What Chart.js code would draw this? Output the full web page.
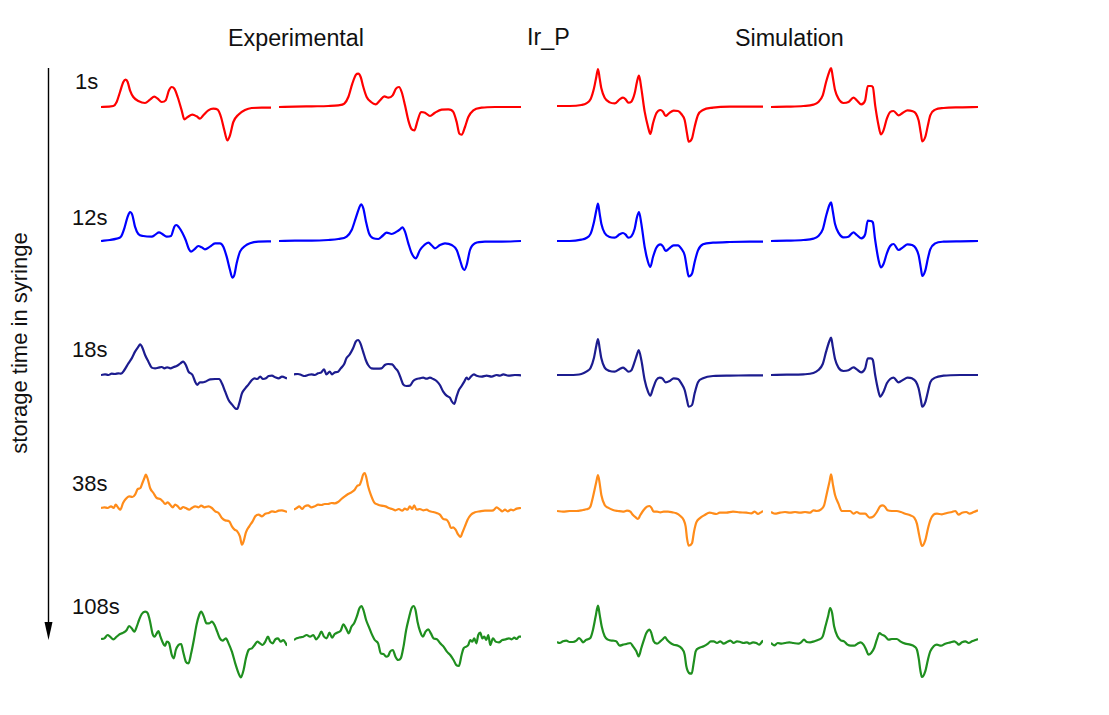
<!DOCTYPE html>
<html lang="en">
<head>
  <meta charset="UTF-8" />
  <title>Ir_P – storage time series</title>
  <script src="https://cdn.jsdelivr.net/npm/chart.js"></script>
  <style>
    body { margin: 0; background: #fff; font-family: "Liberation Sans", Arial, sans-serif; }
    #page { position: relative; width: 1109px; height: 715px; overflow: hidden; }
    #page canvas { position: absolute; }
    .lbl { position: absolute; font-size: 22px; line-height: 22px; color: #111; white-space: nowrap; }
    .head { font-size: 23.3px; }
    #ylab { position: absolute; left: 20px; top: 343px; transform: translate(-50%, -50%) rotate(-90deg); font-size: 22px; line-height: 22px; color: #111; white-space: nowrap; }
  </style>
</head>
<body>
  <div id="page">
    <div class="lbl head" style="left:228px; top:27px;">Experimental</div>
    <div class="lbl head" style="left:527px; top:26px;">Ir_P</div>
    <div class="lbl head" style="left:735px; top:27px;">Simulation</div>
    <div id="ylab">storage time in syringe</div>
    <svg style="position:absolute; left:0; top:0;" width="100" height="715">
      <line x1="48.5" y1="68" x2="48.5" y2="626" stroke="#000" stroke-width="1.4" />
      <polygon points="44.5,622 52.5,622 48.5,640" fill="#000" />
    </svg>
  </div>

  <script>
    // row labels + colours
    const times = ["1s", "12s", "18s", "38s", "108s"];
    const colors = ["#ff0000", "#0000ff", "#1c1c8f", "#ff8c1a", "#1f8f1f"];

    // spectra: [field (a.u.), signal (a.u.)]
    const exp1sLeft = [[18,0],[55,3],[65,15],[75,45],[85,75],[92,82],[98,75],[105,50],[115,30],[130,18],[150,12],[165,22],[178,31],[188,25],[200,15],[212,20],[222,50],[230,60],[238,55],[248,30],[260,-10],[268,-37],[278,-30],[292,-23],[305,-28],[315,-35],[325,-25],[340,-10],[355,-5],[368,-8],[378,-30],[388,-70],[397,-100],[405,-85],[415,-45],[430,-23],[450,-9],[470,-3],[500,-2],[528,-2]];
    const exp1sRight = [[552,0],[600,1],[650,2],[700,3],[730,5],[748,10],[760,30],[772,70],[783,97],[790,100],[797,90],[805,60],[815,30],[828,15],[842,8],[855,20],[868,32],[880,28],[893,35],[903,55],[912,60],[920,45],[930,5],[940,-40],[950,-67],[958,-70],[968,-40],[978,-15],[990,-17],[1005,-27],[1020,-17],[1040,-8],[1060,-7],[1075,-15],[1085,-45],[1093,-80],[1100,-83],[1110,-60],[1120,-30],[1135,-10],[1160,-2],[1200,0],[1278,0]];
    const sim1sLeft = [[22,0],[60,0],[95,3],[110,8],[123,21],[133,53],[140,88],[145,111],[150,83],[155,53],[165,25],[180,11],[195,8],[210,20],[220,25],[228,20],[236,10],[245,13],[255,38],[262,73],[268,91],[275,53],[285,-17],[295,-62],[302,-84],[310,-52],[320,-22],[332,-12],[340,-17],[348,-30],[358,-22],[372,-14],[385,-15],[395,-24],[405,-42],[412,-82],[417,-107],[427,-97],[435,-62],[445,-27],[460,-12],[490,-5],[540,-2],[600,-2],[640,-2]];
    const sim1sRight = [[663,0],[710,1],[760,3],[790,7],[805,15],[818,35],[828,75],[838,107],[843,117],[848,90],[855,50],[865,25],[880,12],[895,15],[910,28],[920,20],[933,8],[945,20],[953,63],[962,63],[968,60],[975,5],[985,-55],[992,-82],[1000,-70],[1010,-35],[1020,-15],[1030,-12],[1045,-25],[1058,-17],[1072,-10],[1085,-12],[1097,-20],[1105,-40],[1112,-80],[1116,-103],[1125,-90],[1133,-55],[1140,-25],[1155,-8],[1180,-3],[1230,-1],[1283,0]];

    const exp12sLeft = [[18,0],[45,3],[65,7],[78,13],[88,38],[98,73],[105,87],[112,78],[120,43],[130,21],[145,15],[170,13],[182,20],[192,26],[202,21],[215,13],[228,15],[238,43],[244,48],[252,41],[262,25],[272,3],[282,-25],[288,-32],[298,-25],[310,-15],[320,-19],[330,-25],[345,-17],[360,-7],[375,-7],[385,-17],[395,-47],[405,-87],[412,-110],[418,-102],[425,-67],[435,-32],[450,-15],[465,-7],[490,-2],[528,-1]];
    const exp12sRight = [[552,0],[600,1],[650,1],[700,3],[730,6],[755,13],[770,33],[782,68],[792,98],[798,110],[805,98],[813,58],[822,23],[835,8],[850,6],[862,15],[875,25],[890,21],[905,28],[915,35],[922,41],[930,28],[940,-7],[950,-37],[962,-52],[975,-27],[988,-12],[1000,-5],[1012,-15],[1020,-22],[1035,-12],[1050,-7],[1070,-12],[1085,-27],[1095,-57],[1102,-79],[1108,-87],[1115,-72],[1125,-27],[1140,-7],[1170,-2],[1220,-2],[1278,0]];
    const sim12sLeft = [[22,0],[60,0],[95,4],[110,9],[123,22],[133,57],[140,92],[145,112],[150,82],[155,52],[165,24],[180,12],[195,10],[210,20],[220,24],[228,19],[236,10],[245,14],[255,37],[262,72],[268,87],[275,52],[285,-18],[295,-63],[302,-78],[310,-48],[320,-20],[332,-10],[340,-16],[348,-30],[358,-23],[372,-13],[385,-13],[395,-23],[405,-43],[412,-83],[417,-106],[427,-98],[435,-63],[445,-28],[460,-10],[490,-5],[540,-3],[600,-2],[640,-2]];
    const sim12sRight = [[663,0],[710,1],[760,3],[790,7],[805,15],[818,35],[828,75],[838,108],[843,116],[848,90],[855,50],[865,25],[880,11],[895,13],[910,26],[920,18],[933,8],[945,20],[953,61],[962,60],[968,56],[975,3],[985,-57],[992,-79],[1000,-69],[1010,-37],[1020,-15],[1030,-9],[1045,-27],[1058,-19],[1072,-10],[1085,-12],[1097,-22],[1105,-42],[1112,-82],[1116,-105],[1125,-89],[1133,-52],[1140,-25],[1155,-7],[1180,-2],[1230,-1],[1283,0]];

    const exp18sLeft = [[18,0],[30,2],[40,0],[50,4],[60,3],[70,5],[78,4],[88,15],[100,35],[110,50],[120,70],[130,85],[135,92],[142,82],[150,60],[160,40],[170,22],[180,20],[190,22],[200,24],[208,20],[216,23],[226,20],[236,24],[246,28],[256,35],[264,40],[272,30],[280,10],[292,0],[300,-20],[306,-30],[314,-22],[322,-22],[330,-20],[345,-13],[360,-12],[372,-12],[380,-25],[390,-50],[400,-75],[410,-88],[420,-100],[426,-102],[432,-85],[440,-55],[450,-40],[460,-28],[470,-15],[478,-10],[486,-12],[495,-5],[503,-12],[512,-10],[520,-3],[530,-2],[540,-7],[550,-10],[560,-5],[575,-10]];
    const exp18sRight = [[598,2],[610,3],[620,0],[630,-3],[640,0],[650,2],[660,0],[670,5],[680,8],[688,17],[695,2],[705,10],[712,2],[720,8],[730,10],[738,20],[748,32],[755,50],[765,62],[775,80],[783,100],[790,105],[797,95],[805,70],[813,45],[820,30],[830,20],[845,19],[860,20],[870,30],[880,33],[892,32],[902,20],[910,10],[918,-10],[925,-28],[935,-33],[945,-32],[955,-18],[965,-12],[975,-10],[985,-8],[995,-11],[1005,-8],[1015,-12],[1025,-18],[1035,-30],[1045,-50],[1055,-62],[1065,-68],[1070,-78],[1078,-87],[1085,-65],[1092,-45],[1100,-33],[1108,-20],[1115,-8],[1120,-13],[1128,-5],[1137,2],[1145,-2],[1160,-5],[1175,-2],[1190,-5],[1205,0],[1215,-2],[1225,2],[1240,-2],[1260,0],[1278,-1]];
    const sim18sLeft = [[22,0],[60,0],[95,3],[110,10],[123,22],[133,52],[140,88],[145,108],[150,80],[155,50],[165,22],[180,12],[195,10],[210,18],[220,22],[228,17],[236,10],[245,14],[255,40],[262,62],[267,75],[275,45],[285,-15],[295,-50],[302,-62],[310,-40],[320,-15],[330,-8],[338,-10],[348,-22],[360,-18],[372,-10],[385,-12],[395,-25],[405,-45],[412,-75],[417,-95],[427,-90],[435,-55],[445,-22],[460,-10],[490,-3],[540,-2],[600,-1],[640,-1]];
    const sim18sRight = [[663,0],[710,1],[760,2],[790,6],[805,15],[818,33],[828,70],[838,102],[843,112],[848,85],[855,47],[865,22],[880,12],[895,14],[910,23],[920,17],[933,8],[945,20],[953,50],[962,50],[968,45],[975,0],[985,-50],[990,-65],[1000,-50],[1010,-25],[1020,-12],[1030,-8],[1045,-22],[1058,-15],[1072,-8],[1085,-10],[1097,-20],[1105,-40],[1112,-75],[1116,-95],[1125,-82],[1133,-50],[1140,-22],[1155,-8],[1180,-2],[1230,0],[1283,0]];

    const exp38sLeft = [[18,0],[28,2],[38,0],[48,5],[56,0],[62,10],[70,0],[76,-5],[84,15],[92,27],[102,35],[112,33],[120,40],[128,57],[136,60],[142,75],[148,90],[152,100],[158,87],[165,60],[175,45],[185,30],[195,27],[203,20],[210,12],[218,17],[225,10],[233,2],[240,10],[248,5],[256,-3],[264,3],[272,0],[282,-5],[290,0],[300,5],[310,2],[318,7],[328,2],[340,5],[350,0],[360,-10],[370,-15],[380,-30],[390,-37],[402,-40],[410,-55],[418,-65],[426,-70],[434,-85],[440,-110],[445,-100],[452,-73],[462,-55],[472,-40],[480,-25],[490,-20],[500,-25],[510,-17],[520,-15],[530,-10],[540,-12],[550,-8],[560,-7],[570,-10],[575,-12]];
    const exp38sRight = [[598,-5],[606,0],[614,5],[622,-3],[630,5],[640,8],[650,2],[660,5],[670,10],[680,9],[690,12],[700,12],[710,15],[720,14],[730,18],[740,27],[750,35],[760,42],[770,47],[780,55],[788,67],[795,70],[800,83],[805,100],[810,105],[815,90],[820,65],[828,40],[838,17],[850,10],[860,7],[872,5],[882,0],[892,-3],[902,-7],[912,-3],[922,-8],[930,-2],[938,-5],[945,5],[952,-3],[958,8],[965,-5],[975,-3],[985,-7],[995,-5],[1005,-10],[1015,-12],[1025,-15],[1035,-20],[1045,-33],[1055,-35],[1062,-45],[1068,-60],[1075,-58],[1082,-65],[1090,-80],[1097,-87],[1102,-75],[1110,-55],[1118,-35],[1128,-20],[1140,-13],[1155,-10],[1170,-8],[1185,-8],[1195,-7],[1205,2],[1215,-5],[1222,-10],[1230,-5],[1238,-10],[1248,-5],[1255,-7],[1265,-2],[1278,0]];
    const sim38sLeft = [[22,0],[40,-2],[60,0],[80,0],[100,3],[110,5],[122,13],[130,43],[140,88],[145,108],[150,83],[155,48],[165,18],[175,10],[190,3],[205,0],[220,-2],[232,1],[242,-2],[250,-12],[258,-19],[265,-24],[272,-12],[282,3],[292,13],[300,15],[305,10],[312,-2],[322,-2],[332,-4],[342,-2],[355,-2],[368,-4],[380,-7],[392,-15],[402,-27],[408,-47],[412,-82],[417,-104],[427,-97],[433,-62],[440,-34],[450,-22],[465,-12],[480,-5],[490,-7],[500,-9],[510,-5],[530,-5],[550,-2],[570,-4],[590,-5],[605,-7],[615,-2],[625,-9],[632,-5],[640,0]];
    const sim38sRight = [[663,0],[675,-5],[690,-2],[705,0],[720,-2],[735,0],[750,-2],[765,0],[780,-2],[790,5],[800,3],[812,7],[822,20],[830,55],[838,90],[843,113],[848,85],[855,50],[865,25],[875,3],[890,3],[900,3],[910,-5],[920,0],[930,-5],[945,-5],[958,-17],[970,-13],[980,0],[990,17],[998,20],[1005,15],[1012,5],[1025,3],[1040,3],[1052,0],[1065,-5],[1080,-10],[1092,-17],[1100,-35],[1105,-60],[1110,-85],[1115,-102],[1125,-85],[1133,-50],[1140,-25],[1150,-8],[1160,-5],[1175,-7],[1190,-3],[1205,0],[1215,3],[1225,-8],[1235,-2],[1248,0],[1258,-5],[1270,0],[1283,5]];

    const exp108sLeft = [[18,0],[28,2],[38,12],[45,7],[55,-1],[65,7],[75,15],[85,19],[95,27],[102,39],[110,32],[118,22],[125,37],[132,57],[140,75],[150,82],[158,77],[165,52],[172,17],[178,7],[185,17],[190,24],[196,7],[204,-13],[210,-21],[215,-8],[222,-13],[230,-48],[236,-58],[242,-33],[250,-18],[258,-15],[264,-38],[272,-68],[280,-73],[288,-43],[296,-3],[304,42],[312,72],[318,82],[326,67],[334,47],[342,47],[350,52],[358,42],[366,22],[374,2],[382,-5],[392,2],[400,-13],[410,-38],[420,-73],[430,-103],[437,-115],[445,-93],[452,-58],[460,-33],[470,-28],[478,-18],[486,-8],[494,-13],[502,-18],[510,-8],[518,7],[525,-8],[532,-13],[540,-1],[548,2],[556,-8],[564,-3],[570,-11],[575,-20]];
    const exp108sRight = [[598,-3],[606,2],[616,5],[626,7],[636,12],[646,7],[656,12],[664,-1],[672,7],[680,22],[688,7],[696,2],[704,19],[712,4],[720,15],[730,20],[738,25],[746,44],[754,32],[762,17],[770,37],[778,47],[786,67],[794,92],[800,99],[806,87],[814,57],[822,37],[830,17],[840,-3],[850,-13],[858,-43],[866,-45],[874,-53],[880,-51],[886,-38],[894,-33],[902,-53],[910,-63],[918,-58],[926,-23],[934,27],[942,62],[950,92],[956,99],[962,87],[968,52],[976,22],[984,7],[992,22],[1000,29],[1008,17],[1016,2],[1026,-1],[1036,-13],[1046,-23],[1056,-38],[1066,-48],[1076,-63],[1084,-78],[1092,-81],[1100,-48],[1106,-28],[1114,-23],[1120,-18],[1126,-3],[1132,-8],[1138,2],[1144,-13],[1150,12],[1156,19],[1162,2],[1168,7],[1174,-3],[1180,12],[1186,-18],[1194,2],[1202,-8],[1212,-10],[1222,-3],[1232,-1],[1242,2],[1250,-1],[1258,4],[1265,0],[1272,7],[1278,7]];
    const sim108sLeft = [[22,0],[30,-3],[40,2],[50,4],[60,0],[70,0],[80,4],[88,12],[95,5],[100,-1],[110,7],[122,12],[130,37],[138,77],[145,109],[150,82],[156,47],[165,17],[175,7],[190,4],[200,2],[210,-11],[220,-8],[230,-6],[242,-3],[250,-13],[260,-28],[267,-43],[275,-18],[283,7],[290,27],[300,37],[305,27],[312,2],[322,-5],[332,2],[340,9],[346,15],[352,7],[360,-1],[372,-8],[385,-11],[395,-18],[405,-38],[410,-73],[418,-93],[426,-95],[432,-63],[438,-28],[448,-18],[462,-13],[475,-5],[483,2],[492,2],[502,-3],[512,2],[522,-5],[532,0],[542,4],[552,-3],[562,2],[572,0],[582,-3],[592,-1],[600,-5],[610,-1],[620,-3],[628,-8],[634,-3],[640,5]];
    const sim108sRight = [[663,0],[673,-7],[683,0],[695,-2],[705,0],[718,2],[730,0],[745,-2],[753,2],[762,10],[770,3],[780,2],[792,5],[806,10],[818,20],[826,50],[834,80],[840,105],[846,90],[852,50],[862,20],[872,8],[882,5],[892,-5],[902,-8],[912,-8],[922,-2],[932,2],[940,-5],[948,-20],[955,-35],[963,-30],[972,-15],[980,10],[988,30],[995,25],[1005,20],[1015,10],[1025,12],[1040,12],[1050,5],[1065,-2],[1080,-5],[1092,-10],[1100,-20],[1106,-50],[1110,-80],[1115,-102],[1125,-85],[1133,-50],[1140,-25],[1150,-10],[1160,-5],[1172,-8],[1185,-2],[1200,2],[1212,5],[1220,0],[1225,-5],[1235,2],[1245,5],[1255,0],[1265,5],[1273,8],[1283,12]];

    const rows = [
      [exp1sLeft, exp1sRight, sim1sLeft, sim1sRight],
      [exp12sLeft, exp12sRight, sim12sLeft, sim12sRight],
      [exp18sLeft, exp18sRight, sim18sLeft, sim18sRight],
      [exp38sLeft, exp38sRight, sim38sLeft, sim38sRight],
      [exp108sLeft, exp108sRight, sim108sLeft, sim108sRight]
    ];

    // layout: per panel [left, width, baseline y] in px
    const boxes = [
      [[101,170,106.7],[279,242,106.7],[557.3,206,106],[771,206.7,106.7]],
      [[101,170,241],[279,242,241],[557.3,206,240.7],[771,206.7,241]],
      [[101,185.7,375],[294.3,226.7,375],[557.3,206,375],[771,206.7,375]],
      [[101,185.7,508.3],[294.3,226.7,508.3],[557.3,206,511],[771,206.7,511.7]],
      [[101,185.7,639],[294.3,226.7,639],[557.3,206,642.3],[771,206.7,643.3]]
    ];
    const labelTops = [71, 207, 339, 473, 596];
    const PANEL_H = 120;
    const SPAN = 180; // signal units above/below baseline shown in a panel

    const page = document.getElementById("page");

    rows.forEach((row, r) => {
      const lab = document.createElement("div");
      lab.className = "lbl";
      lab.style.left = (r === 0 ? 75 : 72) + "px";
      lab.style.top = labelTops[r] + "px";
      lab.textContent = times[r];
      page.appendChild(lab);

      row.forEach((pts, c) => {
        const [left, width, base] = boxes[r][c];
        const cv = document.createElement("canvas");
        cv.width = Math.round(width);
        cv.height = PANEL_H;
        cv.style.left = left + "px";
        cv.style.top = (base - PANEL_H / 2) + "px";
        cv.style.width = Math.round(width) + "px";
        cv.style.height = PANEL_H + "px";
        page.appendChild(cv);

        new Chart(cv.getContext("2d"), {
          type: "line",
          data: {
            datasets: [{
              data: pts.map(p => ({ x: p[0], y: p[1] })),
              borderColor: colors[r],
              borderWidth: 2.2,
              pointRadius: 0,
              cubicInterpolationMode: "monotone",
              clip: false
            }]
          },
          options: {
            responsive: false,
            animation: false,
            layout: { padding: 0 },
            plugins: { legend: { display: false }, tooltip: { enabled: false } },
            scales: {
              x: { type: "linear", display: false, min: pts[0][0], max: pts[pts.length - 1][0] },
              y: { display: false, min: -SPAN, max: SPAN }
            }
          }
        });
      });
    });
  </script>
</body>
</html>
